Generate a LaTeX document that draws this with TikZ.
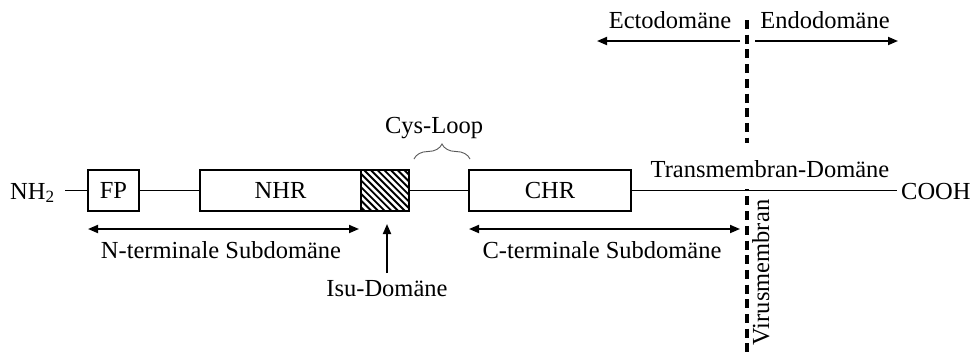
\documentclass[tikz,border=0pt]{standalone}
\usepackage{fontspec}
\setmainfont{Liberation Serif}
\usetikzlibrary{arrows.meta,decorations.pathreplacing}
\begin{document}
\begin{tikzpicture}[x=1pt,y=-1pt,
  lbl/.style={inner sep=0pt,font=\fontsize{24.5}{29}\selectfont},
  dombox/.style={draw,line width=1.8pt,minimum height=41pt,inner sep=0pt,font=\fontsize{24.5}{29}\selectfont},
  mainline/.style={line width=1.8pt},
  dimarrow/.style={line width=1.8pt,{Triangle[length=10pt,width=8pt]}-{Triangle[length=10pt,width=8pt]}},
  onearrow/.style={line width=1.8pt,-{Triangle[length=10pt,width=8pt]}},
  membrane/.style={line width=3.2pt,dash pattern=on 9pt off 5.7pt}
]
\useasboundingbox (0,0) rectangle (977,354);
\fill[white] (0,0) rectangle (977,354);

% membrane
\coordinate (mtop) at (747,20);
\coordinate (mbot) at (747,354);
\draw[membrane] (mtop) -- (mbot);

% text nodes
\node[lbl,anchor=base west] (nh2) at (10,199) {NH\textsubscript{2}};
\node[lbl,anchor=base west] (cooh) at (901,199) {COOH};
\node[lbl,anchor=base] (ecto) at (670,28) {Ectodomäne};
\node[lbl,anchor=base] (endo) at (825,28) {Endodomäne};
\node[lbl,anchor=base] (cys) at (434,133) {Cys-Loop};
\node[lbl,anchor=base,fill=white,text height=34pt,text depth=12pt,inner xsep=1pt] (tm) at (770,177) {Transmembran-Domäne};
\node[lbl,anchor=base] (nterm) at (221,258) {N-terminale Subdomäne};
\node[lbl,anchor=base] (cterm) at (602,258) {C-terminale Subdomäne};
\node[lbl,anchor=base] (isutext) at (387,296) {Isu-Domäne};
\node[lbl,anchor=base,rotate=90] (vm) at (769,272.5) {Virusmembran};

% domain boxes
\node[dombox,minimum width=51pt] (fp) at (113.5,190.5) {FP};
\node[dombox,minimum width=161pt] (nhr) at (280.5,190.5) {NHR};
\node[minimum width=48pt,minimum height=41pt,inner sep=0pt] (isu) at (385,190.5) {};
\node[dombox,minimum width=162pt] (chr) at (550,190.5) {CHR};

% hatching of Isu domain
\begin{scope}
  \clip (isu.south west) rectangle (isu.north east);
  \foreach \k in {-7,...,7}
    \draw[line width=1.9pt] (364+\k*6.7,170) -- ++(41,41);
\end{scope}
\draw[line width=1.8pt] (isu.south west) rectangle (isu.north east);

% main chain
\coordinate (l0) at (65,190.5);
\draw[mainline] (l0) -- (fp.west);
\draw[mainline] (fp.east) -- (nhr.west);
\draw[mainline] (isu.east) -- (chr.west);
\draw[mainline] (chr.east) -- (897,190.5) coordinate (lend);

% brace for Cys-Loop
\coordinate (b1) at (414,159);
\coordinate (b2) at (470,159);
\draw[line width=0.9pt,gray!70!black,decorate,decoration={brace,amplitude=15pt}] (b1) -- (b2);

% arrows
\coordinate (n1) at (88,229);
\coordinate (n2) at (359,229);
\draw[dimarrow] (n1) -- (n2);
\coordinate (c1) at (469,229);
\coordinate (c2) at (740,229);
\draw[dimarrow] (c1) -- (c2);
\coordinate (e1) at (740,41);
\coordinate (e2) at (597,41);
\draw[onearrow] (e1) -- (e2);
\coordinate (d1) at (755,41);
\coordinate (d2) at (898,41);
\draw[onearrow] (d1) -- (d2);
\coordinate (i1) at (387,273);
\coordinate (i2) at (387,224);
\draw[onearrow] (i1) -- (i2);
\end{tikzpicture}
\end{document}
